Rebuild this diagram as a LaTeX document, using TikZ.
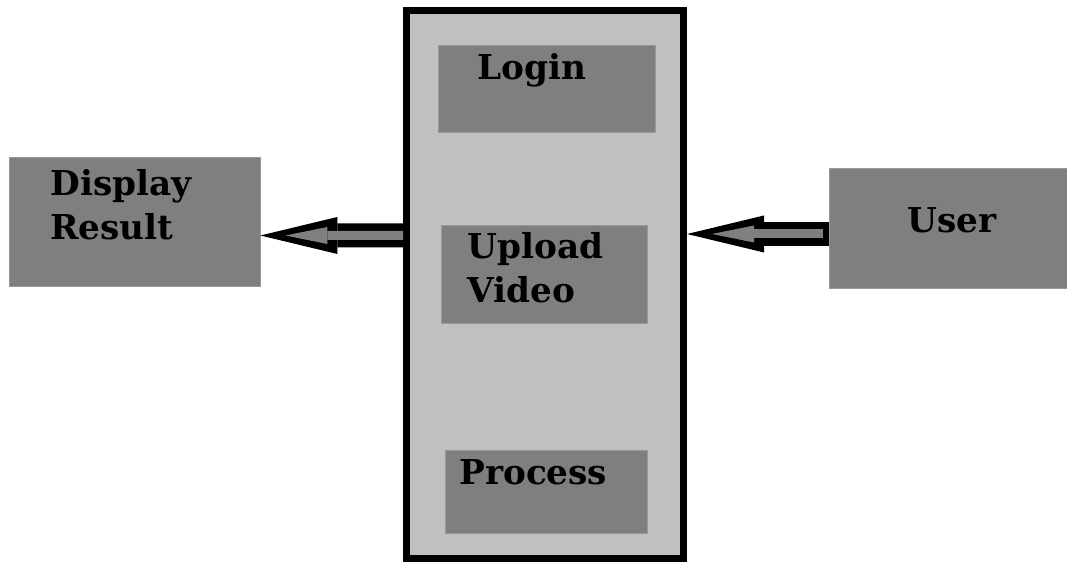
\documentclass[tikz,border=0pt]{standalone}
\usepackage{fontspec}
\setmainfont{DejaVu Serif}
\usetikzlibrary{arrows.meta}

\definecolor{boxgray}{RGB}{127,127,127}
\definecolor{hubgray}{RGB}{192,192,192}

\tikzset{
  box/.style={draw=boxgray!80!white, line width=0.4pt, fill=boxgray, inner sep=0pt},
  lbl/.style={font=\bfseries\fontsize{19.5}{25.6}\selectfont, inner sep=0pt, anchor=base west, align=left},
  flowout/.style={line width=0.48cm, -{Triangle[length=1.54cm,width=0.74cm,line width=0pt]}},
  flowin/.style={line width=0.18cm, boxgray, -{Triangle[length=0.84cm,width=0.34cm,line width=0pt]}, shorten >=0.5cm},
}

\begin{document}
\begin{tikzpicture}
  \useasboundingbox (0,0) rectangle (21.34,11.26);
  % system block
  \node[draw, line width=0.14cm, fill=hubgray, minimum width=5.54cm, minimum height=10.96cm, inner sep=0pt] (hub) at (10.90,5.57) {};
  \node[box, minimum width=4.34cm, minimum height=1.74cm] (login) at (10.93,9.49) {};
  \node[box, minimum width=4.12cm, minimum height=1.96cm] (upload) at (10.88,5.78) {};
  \node[box, minimum width=4.04cm, minimum height=1.66cm] (process) at (10.92,1.43) {};
  \node[lbl] (logintxt) at (9.54,9.66) {Login};
  \node[lbl] (uploadtxt) at (9.34,5.20) {Upload\\Video};
  \node[lbl] (processtxt) at (9.18,1.56) {Process};
  % outside
  \node[box, minimum width=5.02cm, minimum height=2.58cm] (disp) at (2.69,6.83) {};
  \node[box, minimum width=4.76cm, minimum height=2.40cm] (user) at (18.96,6.70) {};
  \node[lbl] (disptxt) at (1.00,6.46) {Display\\Result};
  \node[lbl] (usertxt) at (18.14,6.60) {User};
  % arrows
  \draw[flowout] ([yshift=0.98cm]hub.west) -- ([yshift=-0.28cm]disp.east);
  \draw[flowin] ([yshift=0.98cm]hub.west) -- ([yshift=-0.28cm]disp.east);
  \draw[flowout] ([yshift=-0.12cm]user.west) -- ([yshift=1.01cm]hub.east);
  \draw[flowin, shorten <=0.12cm] ([yshift=-0.12cm]user.west) -- ([yshift=1.01cm]hub.east);
\end{tikzpicture}
\end{document}
